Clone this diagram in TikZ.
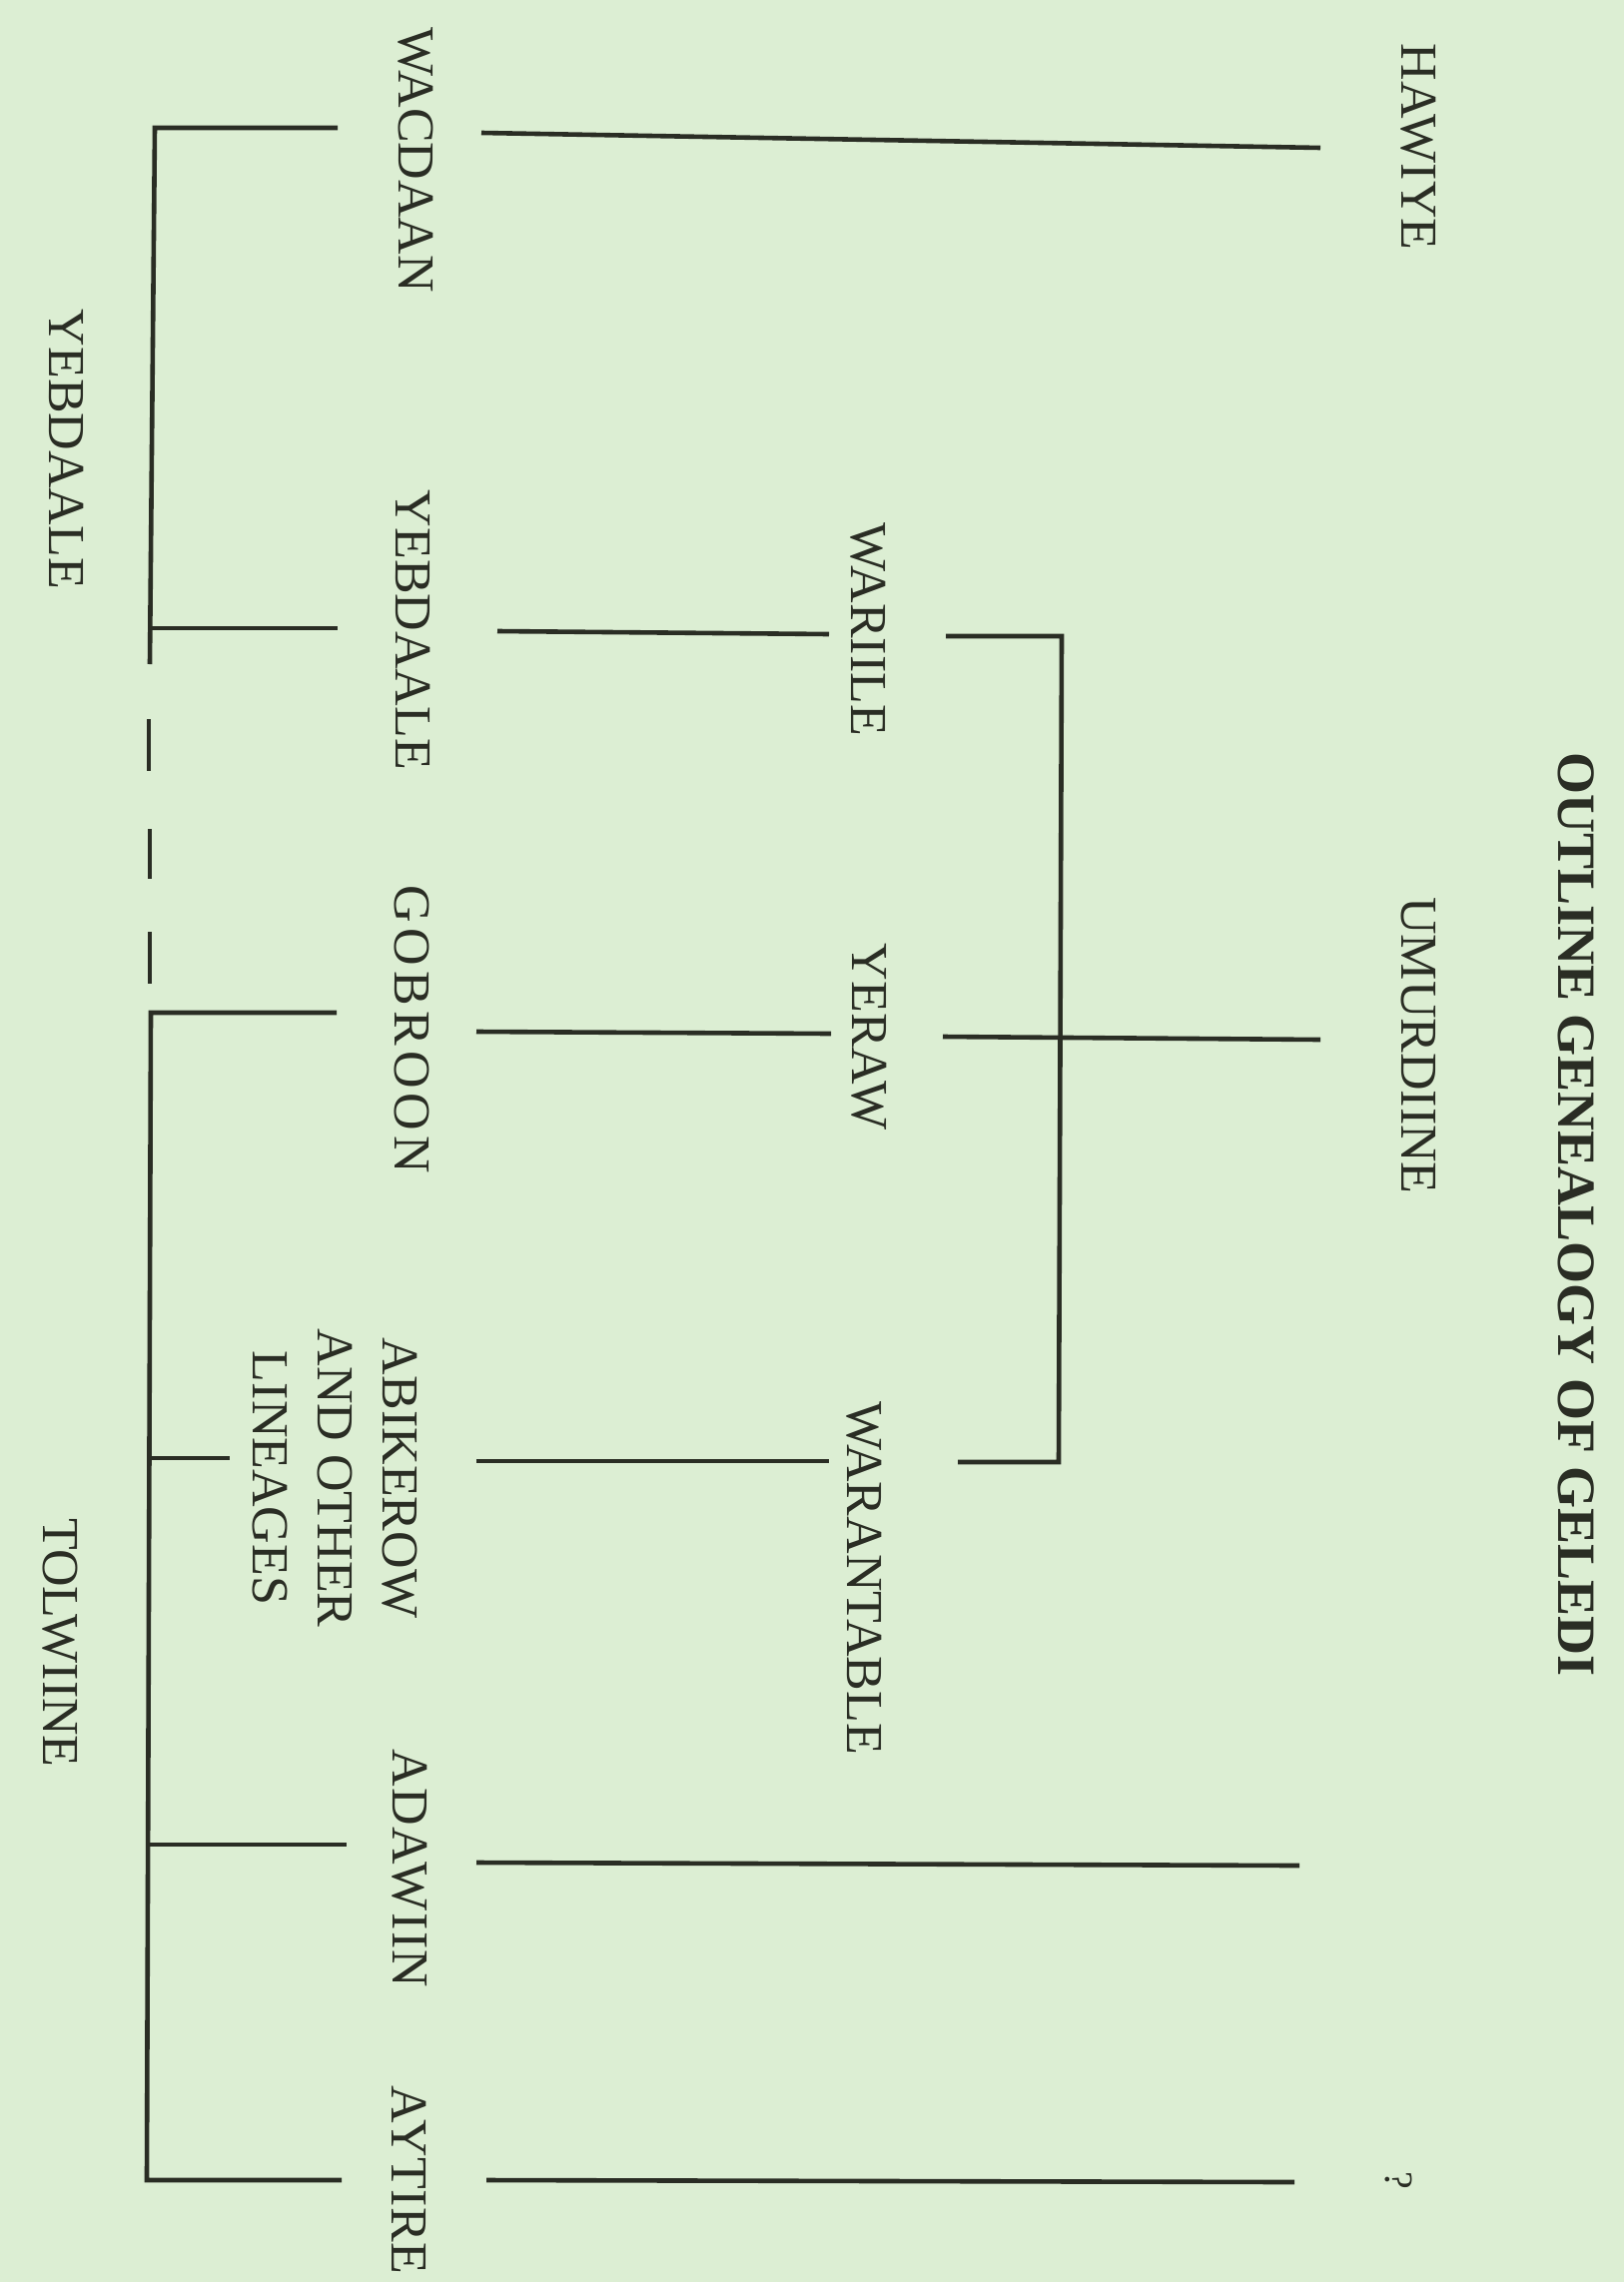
\documentclass[tikz,border=0pt]{standalone}
\usepackage{fontspec}
\setmainfont{Liberation Serif}
\definecolor{bg}{HTML}{DCEED3}
\definecolor{ink}{HTML}{2A2D24}
\begin{document}
\begin{tikzpicture}[x=0.5pt,y=-0.5pt,
  lbl/.style={rotate=-90,inner sep=0pt,text=ink,font=\fontsize{26}{32.5}\selectfont},
  ttl/.style={lbl,font=\bfseries\fontsize{27}{32}\selectfont},
  conn/.style={draw=ink,line width=2.3pt,line join=miter}]
\fill[bg] (0,0) rectangle (1626,2285);
\useasboundingbox (0,0) rectangle (1626,2285);
% labels
\node[ttl] (title) at (1578,1216) {OUTLINE GENEALOGY OF GELEDI};
\node[lbl] (hawiye) at (1420,147) {HAWIYE};
\node[lbl] (umurdiine) at (1420,1047) {UMURDIINE};
\node[lbl,font=\fontsize{20}{24}\selectfont] (qm) at (1400,2183) {?};
\node[lbl] (wariile) at (869,630) {WARIILE};
\node[lbl] (yeraw) at (870,1038) {YERAW};
\node[lbl] (warantable) at (865,1580) {WARANTABLE};
\node[lbl] (wacdaan) at (416,160) {WACDAAN};
\node[lbl] (yebdaale) at (414,631) {YEBDAALE};
\node[lbl] (gobroon) at (412,1031) {\addfontfeature{LetterSpace=10}GOBROON};
\node[lbl,align=center] (abikerow) at (335,1480) {ABIKEROW\\AND OTHER\\LINEAGES};
\node[lbl] (adawiin) at (410,1871) {\addfontfeature{LetterSpace=3}ADAWIIN};
\node[lbl] (aytire) at (410,2183) {\addfontfeature{LetterSpace=1}AYTIRE};
\node[lbl] (yebdaaleL) at (67,450) {YEBDAALE};
\node[lbl] (tolwiine) at (60,1645) {TOLWIINE};
% coordinates
\coordinate (h1) at (482,133); \coordinate (h2) at (1322,148);
\coordinate (b1a) at (338,128); \coordinate (b1c) at (155,128); \coordinate (b1d) at (150,665);
\coordinate (b1e) at (151,629); \coordinate (b1f) at (338,629);
\coordinate (d1a) at (149,720); \coordinate (d1b) at (149,772);
\coordinate (d2a) at (150,830); \coordinate (d2b) at (150,880);
\coordinate (d3a) at (150,933); \coordinate (d3b) at (150,985);
\coordinate (b2a) at (337,1014); \coordinate (b2c) at (151,1014);
\coordinate (b2d) at (147,2183); \coordinate (b2e) at (342,2183);
\coordinate (b2f) at (150,1460); \coordinate (b2g) at (230,1460);
\coordinate (b2h) at (148,1847); \coordinate (b2i) at (347,1847);
\coordinate (m1a) at (498,632); \coordinate (m1b) at (830,635);
\coordinate (m2a) at (477,1033); \coordinate (m2b) at (832,1035);
\coordinate (m3a) at (477,1463); \coordinate (m3b) at (830,1463);
\coordinate (r1) at (947,637); \coordinate (r2) at (1063,637);
\coordinate (r3) at (1060,1464); \coordinate (r4) at (959,1464);
\coordinate (y1) at (944,1038); \coordinate (y2) at (1322,1041);
\coordinate (a1) at (477,1865); \coordinate (a2) at (1301,1868);
\coordinate (t1) at (487,2183); \coordinate (t2) at (1296,2185);
% connectors
\draw[conn] (h1) -- (h2);
\draw[conn] (b1a) -- (b1c) -- (b1d);
\draw[conn] (b1e) -- (b1f);
\draw[conn] (d1a) -- (d1b);
\draw[conn] (d2a) -- (d2b);
\draw[conn] (d3a) -- (d3b);
\draw[conn] (b2a) -- (b2c) -- (b2d) -- (b2e);
\draw[conn] (b2f) -- (b2g);
\draw[conn] (b2h) -- (b2i);
\draw[conn] (m1a) -- (m1b);
\draw[conn] (m2a) -- (m2b);
\draw[conn] (m3a) -- (m3b);
\draw[conn] (r1) -- (r2) -- (r3) -- (r4);
\draw[conn] (y1) -- (y2);
\draw[conn] (a1) -- (a2);
\draw[conn] (t1) -- (t2);
\end{tikzpicture}
\end{document}
